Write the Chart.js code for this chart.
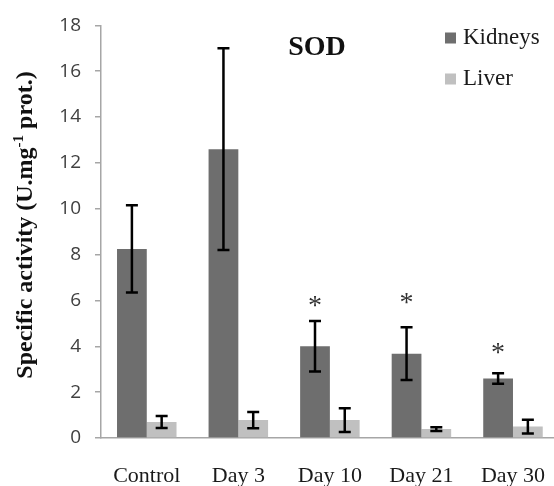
<!DOCTYPE html>
<html>
<head>
<meta charset="utf-8">
<script src="https://cdn.jsdelivr.net/npm/chart.js@4"></script>
<style>
html,body{margin:0;padding:0;background:#fff;}
#wrap{width:554px;height:486px;position:relative;overflow:hidden;}
</style>
</head>
<body>
<div id="wrap"><canvas id="c" width="554" height="486"></canvas></div>
<script>
const categories = ["Control", "Day 3", "Day 10", "Day 21", "Day 30"];
const kidneys = [8.25, 12.6, 4.0, 3.68, 2.6];
const kidneysErr = [1.9, 4.4, 1.1, 1.15, 0.23];
const liver = [0.7, 0.78, 0.78, 0.39, 0.5];
const liverErr = [0.26, 0.35, 0.52, 0.08, 0.3];
const asteriskAt = [null, null, 5.95, 6.1, 3.9];
const yTicks = [0, 2, 4, 6, 8, 10, 12, 14, 16, 18];
const titleText = "SOD";
const yTitle = ["Specific activity (U.mg", "-1", " prot.)"];

const errorBars = {
  id: 'errorBars',
  afterDatasetsDraw(chart) {
    const ctx = chart.ctx;
    const y = chart.scales.y;
    chart.data.datasets.forEach((ds, di) => {
      const meta = chart.getDatasetMeta(di);
      meta.data.forEach((bar, i) => {
        const v = ds.data[i], e = ds.errors[i];
        const x = bar.x;
        const yTop = y.getPixelForValue(v + e);
        const yBot = y.getPixelForValue(v - e);
        ctx.save();
        ctx.strokeStyle = '#000';
        ctx.lineWidth = 2.5;
        ctx.beginPath();
        ctx.moveTo(x, yTop); ctx.lineTo(x, yBot);
        ctx.moveTo(x - 6, yTop); ctx.lineTo(x + 6, yTop);
        ctx.moveTo(x - 6, yBot); ctx.lineTo(x + 6, yBot);
        ctx.stroke();
        ctx.restore();
      });
    });
    const meta0 = chart.getDatasetMeta(0);
    ctx.save();
    ctx.fillStyle = '#333';
    ctx.font = '28px "Liberation Serif"';
    ctx.textAlign = 'center';
    ctx.textBaseline = 'middle';
    asteriskAt.forEach((a, i) => {
      if (a === null) return;
      ctx.fillText('*', meta0.data[i].x, y.getPixelForValue(a) + 5);
    });
    ctx.restore();
  }
};

const decorations = {
  id: 'decorations',
  afterDraw(chart) {
    const ctx = chart.ctx;
    ctx.save();
    ctx.fillStyle = '#111';
    ctx.font = 'bold 28px "Liberation Serif"';
    ctx.textAlign = 'center';
    ctx.textBaseline = 'alphabetic';
    ctx.fillText(titleText, 317, 55);
    ctx.font = '23px "Liberation Serif"';
    ctx.textAlign = 'left';
    ctx.textBaseline = 'middle';
    chart.data.datasets.forEach((ds, i) => {
      const ly = 38 + i * 41;
      ctx.fillStyle = ds.backgroundColor;
      ctx.fillRect(445, ly - 5.5, 11, 11);
      ctx.fillStyle = '#1a1a1a';
      ctx.fillText(ds.label, 463, ly);
    });
    ctx.translate(32, 225);
    ctx.rotate(-Math.PI / 2);
    const fMain = 'bold 24px "Liberation Serif"';
    const fSup = 'bold 15px "Liberation Serif"';
    ctx.font = fMain;
    const w0 = ctx.measureText(yTitle[0]).width;
    const w2 = ctx.measureText(yTitle[2]).width;
    ctx.font = fSup;
    const w1 = ctx.measureText(yTitle[1]).width;
    let x = -(w0 + w1 + w2) / 2;
    ctx.fillStyle = '#111';
    ctx.textAlign = 'left';
    ctx.textBaseline = 'alphabetic';
    ctx.font = fMain; ctx.fillText(yTitle[0], x, 0); x += w0;
    ctx.font = fSup; ctx.fillText(yTitle[1], x, -9); x += w1;
    ctx.font = fMain; ctx.fillText(yTitle[2], x, 0);
    ctx.restore();
  }
};

new Chart(document.getElementById('c'), {
  type: 'bar',
  data: {
    labels: categories,
    datasets: [
      { label: 'Kidneys', data: kidneys, errors: kidneysErr, backgroundColor: '#6e6e6e', borderWidth: 0 },
      { label: 'Liver', data: liver, errors: liverErr, backgroundColor: '#c0c0c0', borderWidth: 0 }
    ]
  },
  options: {
    responsive: false,
    animation: false,
    devicePixelRatio: 1,
    layout: { padding: { top: 15, right: 0, left: 1, bottom: 0 } },
    plugins: { legend: { display: false }, tooltip: { enabled: false }, title: { display: false } },
    datasets: { bar: { categoryPercentage: 0.65, barPercentage: 1.0 } },
    scales: {
      x: {
        grid: { display: true, drawOnChartArea: false, drawTicks: true, tickLength: 25, tickColor: 'rgba(0,0,0,0)' },
        border: { display: true, color: '#a6a6a6', width: 1.5 },
        ticks: { color: '#1a1a1a', font: { family: 'Liberation Serif', size: 22 }, padding: 0, maxRotation: 0 },
        afterFit(s) { s.height = 48; },
        afterUpdate(s) { s._valueRange = s._valueRange * 0.9896; }
      },
      y: {
        min: 0, max: 18,
        afterBuildTicks(s) { s.ticks = yTicks.map(v => ({ value: v })); },
        grid: { drawOnChartArea: false, drawTicks: true, tickLength: 6, color: '#a6a6a6', lineWidth: 1.5 },
        border: { display: true, color: '#a6a6a6', width: 1.5 },
        ticks: { color: '#404040', font: { family: 'Open Sans', size: 19 }, padding: 14 },
        afterFit(s) { s.width = 100; }
      }
    }
  },
  plugins: [errorBars, decorations]
});
</script>
</body>
</html>
